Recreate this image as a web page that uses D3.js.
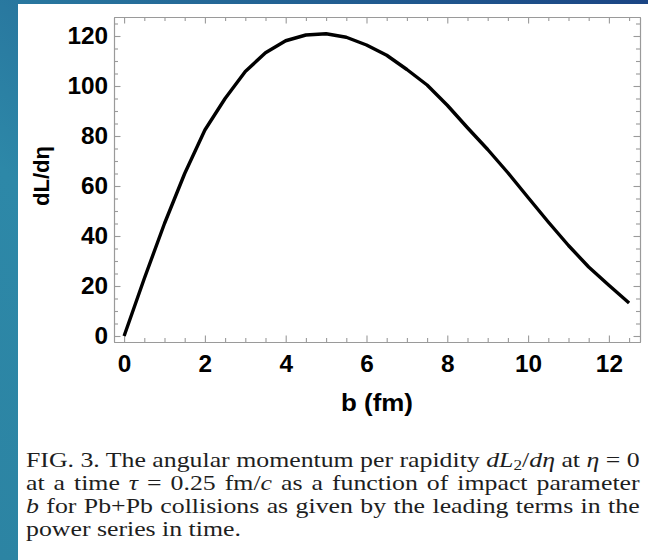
<!DOCTYPE html>
<html>
<head>
<meta charset="utf-8">
<script src="https://cdn.jsdelivr.net/npm/d3@7"></script>
<style>
  html, body { margin: 0; padding: 0; background: #fff; }
  svg { display: block; }
</style>
</head>
<body>
<svg id="fig" width="648" height="560"></svg>
<script>
// Impact parameter b (fm) and angular momentum per rapidity dL/dη
const bValues = [0, 0.5, 1, 1.5, 2, 2.5, 3, 3.5, 4, 4.5, 5, 5.5, 6,
                 6.5, 7, 7.5, 8, 8.5, 9, 9.5, 10, 10.5, 11, 11.5, 12, 12.5];
const dLdEta = [0, 23, 45, 65, 82.4, 95, 105.8, 113.3, 118.1, 120.4, 120.9, 119.5, 116.4,
                112.3, 106.6, 100.4, 92.3, 83.3, 74.6, 65.3, 55.4, 45.6, 36.2, 27.6, 20.3, 13.2];

const xMajorTicks = [0, 2, 4, 6, 8, 10, 12];
const yMajorTicks = [0, 20, 40, 60, 80, 100, 120];
const xMinorTicks = d3.range(0, 12.51, 0.5).filter(v => v % 2 !== 0);
const yMinorTicks = d3.range(0, 125.1, 5).filter(v => v % 20 !== 0);

const xTitle = "b (fm)";
const yTitle = "dL/dη";

const W = 648, H = 560;
const frame = { left: 114, right: 640, top: 17, bottom: 342 };

const svg = d3.select("#fig");

// slide background: teal fading to deep blue, with the white page on top
const defs = svg.append("defs");
const grad = defs.append("linearGradient").attr("id", "slideBg")
  .attr("x1", "0%").attr("y1", "100%").attr("x2", "100%").attr("y2", "0%");
grad.append("stop").attr("offset", "0%").attr("stop-color", "#2c84a3");
grad.append("stop").attr("offset", "35%").attr("stop-color", "#2d88a8");
grad.append("stop").attr("offset", "100%").attr("stop-color", "#1b4584");
svg.append("rect").attr("width", W).attr("height", H).attr("fill", "url(#slideBg)");
svg.append("rect").attr("x", 18).attr("y", 4).attr("width", W - 18).attr("height", H - 4).attr("fill", "#fff");

const x = d3.scaleLinear().domain([-0.25, 12.77]).range([frame.left, frame.right]);
const y = d3.scaleLinear().domain([-2.4, 127.6]).range([frame.bottom, frame.top]);

const frameColor = "#9a9a9a";
const labelFont = "'Liberation Sans', Arial, sans-serif";

function styleAxis(g) {
  g.select(".domain").attr("stroke", frameColor).attr("stroke-width", 1.1);
  g.selectAll(".tick line").attr("stroke", frameColor).attr("stroke-width", 1.1);
}

// minor ticks on all four sides
svg.append("g").attr("transform", `translate(0,${frame.bottom})`)
  .call(d3.axisBottom(x).tickValues(xMinorTicks).tickSizeInner(-4).tickSizeOuter(0).tickFormat(""))
  .call(styleAxis);
svg.append("g").attr("transform", `translate(0,${frame.top})`)
  .call(d3.axisTop(x).tickValues(xMinorTicks).tickSizeInner(-4).tickSizeOuter(0).tickFormat(""))
  .call(styleAxis);
svg.append("g").attr("transform", `translate(${frame.left},0)`)
  .call(d3.axisLeft(y).tickValues(yMinorTicks).tickSizeInner(-4).tickSizeOuter(0).tickFormat(""))
  .call(styleAxis);
svg.append("g").attr("transform", `translate(${frame.right},0)`)
  .call(d3.axisRight(y).tickValues(yMinorTicks).tickSizeInner(-4).tickSizeOuter(0).tickFormat(""))
  .call(styleAxis);

// major ticks, labelled on bottom and left
const xAxis = svg.append("g").attr("transform", `translate(0,${frame.bottom})`)
  .call(d3.axisBottom(x).tickValues(xMajorTicks).tickSizeInner(-6.5).tickSizeOuter(0).tickPadding(14))
  .call(styleAxis);
svg.append("g").attr("transform", `translate(0,${frame.top})`)
  .call(d3.axisTop(x).tickValues(xMajorTicks).tickSizeInner(-6.5).tickSizeOuter(0).tickFormat(""))
  .call(styleAxis);
const yAxis = svg.append("g").attr("transform", `translate(${frame.left},0)`)
  .call(d3.axisLeft(y).tickValues(yMajorTicks).tickSizeInner(-6.5).tickSizeOuter(0).tickPadding(5.5))
  .call(styleAxis);
svg.append("g").attr("transform", `translate(${frame.right},0)`)
  .call(d3.axisRight(y).tickValues(yMajorTicks).tickSizeInner(-6.5).tickSizeOuter(0).tickFormat(""))
  .call(styleAxis);

[xAxis, yAxis].forEach(g => g.selectAll(".tick text")
  .attr("fill", "#000")
  .attr("font-family", labelFont)
  .attr("font-weight", "bold")
  .attr("font-size", 23)
  .attr("transform", "scale(1.06,1)"));

// axis titles
svg.append("text")
  .attr("transform", `translate(${(frame.left + frame.right) / 2},411) scale(1.08,1)`)
  .attr("text-anchor", "middle")
  .attr("font-family", labelFont).attr("font-weight", "bold").attr("font-size", 24)
  .attr("fill", "#000")
  .text(xTitle);
svg.append("text")
  .attr("transform", `translate(49,176) rotate(-90)`)
  .attr("text-anchor", "middle")
  .attr("font-family", labelFont).attr("font-weight", "bold").attr("font-size", 22)
  .attr("fill", "#000")
  .text(yTitle);

// the curve
const line = d3.line().x((d, i) => x(bValues[i])).y(d => y(d));
svg.append("path")
  .datum(dLdEta)
  .attr("d", line)
  .attr("fill", "none")
  .attr("stroke", "#000")
  .attr("stroke-width", 3.4)
  .attr("stroke-linejoin", "round")
  .attr("stroke-linecap", "butt");

// figure caption (serif, justified)
const captionLines = [
  [["FIG. 3. The angular momentum per rapidity "], ["dL", "i"], ["2", "sub"], ["/"], ["dη", "i"], [" at "], ["η", "i"], [" = 0"]],
  [["at a time "], ["τ", "i"], [" = 0.25 fm/"], ["c", "i"], [" as a function of impact parameter"]],
  [["b", "i"], [" for Pb+Pb collisions as given by the leading terms in the"]],
  [["power series in time."]]
];
const capLeft = 26, capWidth = 614, capTop = 467, capStep = 23;
const capFont = "'Liberation Serif', 'Times New Roman', serif";

const capNodes = captionLines.map((segs, li) => {
  const t = svg.append("text")
    .attr("font-family", capFont).attr("font-size", 21).attr("fill", "#1e1e1e")
    .attr("transform", `translate(${capLeft},${capTop + li * capStep})`);
  segs.forEach(([s, kind]) => {
    const ts = t.append("tspan").text(s);
    if (kind === "i") ts.attr("font-style", "italic");
    if (kind === "sub") ts.attr("font-size", 14).attr("dy", 3);
    if (kind === undefined && t.attr("data-sub") === "1") ts.attr("dy", -3);
    t.attr("data-sub", kind === "sub" ? "1" : "0");
  });
  return t;
});

// widen glyphs to the caption's measure, then justify lines with word spacing
const natural = capNodes.map(t => t.node().getComputedTextLength());
const gScale = capWidth / natural[0];
capNodes.forEach((t, li) => {
  t.attr("transform", `translate(${capLeft},${capTop + li * capStep}) scale(${gScale},1)`);
  if (li < captionLines.length - 1 && li > 0) {
    const txt = captionLines[li].map(s => s[0]).join("");
    const spaces = (txt.match(/ /g) || []).length;
    const extra = (capWidth / gScale - natural[li]) / spaces;
    t.attr("word-spacing", extra);
  }
});
</script>
</body>
</html>
